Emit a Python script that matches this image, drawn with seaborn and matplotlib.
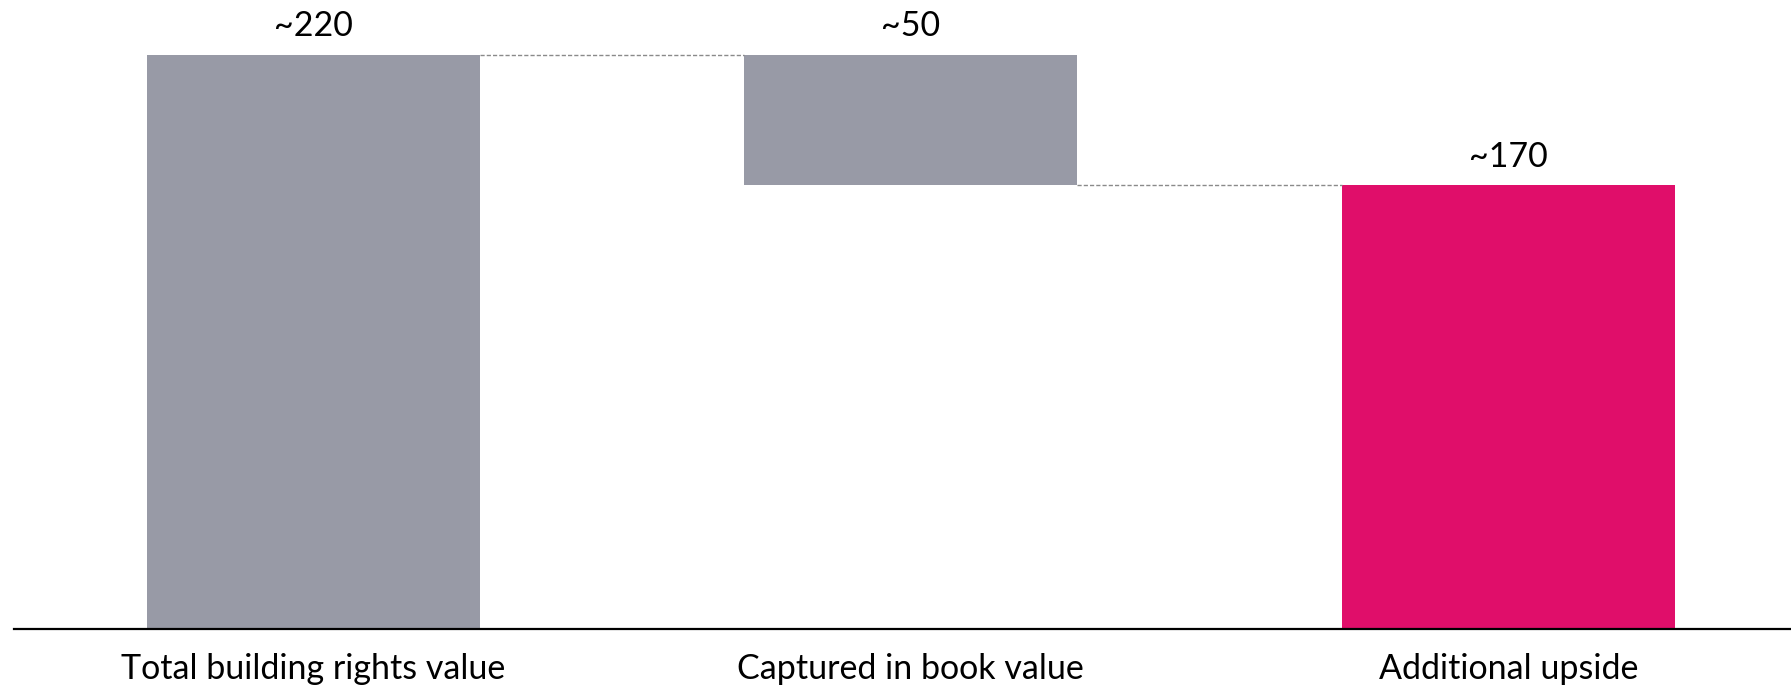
import matplotlib
matplotlib.use("Agg")
import matplotlib.pyplot as plt
import seaborn as sns

# Waterfall: total, deduction, remainder
categories = ["Total building rights value", "Captured in book value", "Additional upside"]
values = [220, 50, 170]
value_labels = ["~220", "~50", "~170"]

# floating base for the middle (deduction) bar
bottoms = [0, values[0] - values[1], 0]
tops = [b + v for b, v in zip(bottoms, values)]

GRAY = "#989AA6"
MAGENTA = "#E00E6A"

sns.set_theme(style="white")
plt.rcParams["font.family"] = ["Lato", "DejaVu Sans"]

fig = plt.figure(figsize=(17.91, 6.85), dpi=100)
ax = fig.add_axes([14 / 1791, 56 / 685, 1 - 14 / 1791, 629 / 685])

bar_w = 0.557
sns.barplot(x=categories, y=values, bottom=bottoms, color=GRAY, width=bar_w,
            saturation=1, ax=ax)
ax.patches[2].set_facecolor(MAGENTA)
for p in ax.patches:
    p.set_edgecolor("none")

ax.set_xlim(-0.501, 2.473)
ax.set_ylim(0, 241)

# dashed connectors between consecutive bars
for i in range(len(values) - 1):
    level = tops[i] if i == 0 else bottoms[i]
    ax.plot([i + bar_w / 2, i + 1 - bar_w / 2], [level, level],
            color="#8a8a8a", lw=1.0, ls=(0, (3, 1.5)))

for i, (t, lab) in enumerate(zip(tops, value_labels)):
    ax.annotate(lab, (i, t), xytext=(0, 20.5), textcoords="offset points",
                ha="center", va="center", fontsize=24.5, color="black")

for s in ["top", "left", "right"]:
    ax.spines[s].set_visible(False)
ax.spines["bottom"].set_color("black")
ax.spines["bottom"].set_linewidth(1.6)
ax.set_yticks([])
ax.set_ylabel("")
ax.set_xlabel("")
ax.tick_params(axis="x", length=0, pad=17, labelsize=24.5, labelcolor="black")

fig.savefig("out.png", dpi=100, facecolor="white")
